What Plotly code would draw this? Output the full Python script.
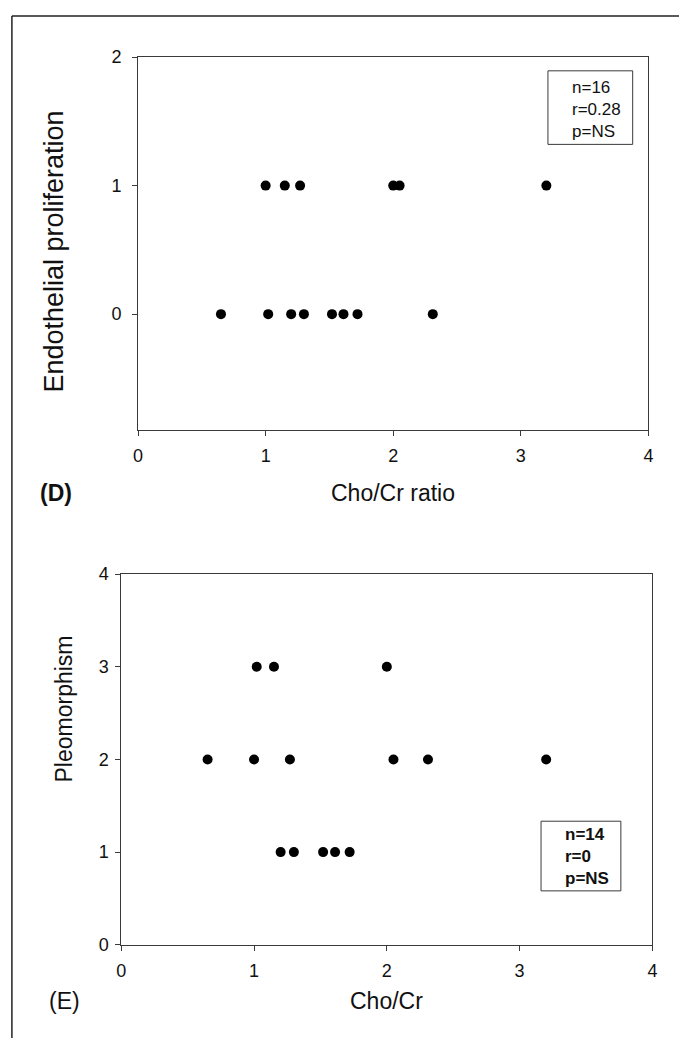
import plotly.graph_objects as go

W, H = 684, 1048

# Panel D: endothelial proliferation grade vs Cho/Cr ratio
d_cho_cr = [1.0, 1.15, 1.27, 2.0, 2.05, 3.2,
            0.65, 1.02, 1.2, 1.3, 1.52, 1.61, 1.72, 2.31]
d_endo = [1, 1, 1, 1, 1, 1,
          0, 0, 0, 0, 0, 0, 0, 0]
d_stats = ["n=16", "r=0.28", "p=NS"]

# Panel E: pleomorphism grade vs Cho/Cr
e_cho_cr = [1.02, 1.15, 2.0,
            0.65, 1.0, 1.27, 2.05, 2.31, 3.2,
            1.2, 1.3, 1.52, 1.61, 1.72]
e_pleo = [3, 3, 3,
          2, 2, 2, 2, 2, 2,
          1, 1, 1, 1, 1]
e_stats = ["n=14", "r=0", "p=NS"]

x_ticks = [0, 1, 2, 3, 4]
d_y_ticks = [0, 1, 2]
e_y_ticks = [0, 1, 2, 3, 4]

FONT = "Liberation Sans, Arial, sans-serif"
AXIS_COLOR = "#3a3a3a"


def px_x(v):
    return v / W


def px_y(v):
    return 1 - v / H


fig = go.Figure()

fig.add_trace(go.Scatter(
    x=d_cho_cr, y=d_endo, mode="markers", xaxis="x", yaxis="y",
    marker=dict(color="black", size=10), showlegend=False))
fig.add_trace(go.Scatter(
    x=e_cho_cr, y=e_pleo, mode="markers", xaxis="x2", yaxis="y2",
    marker=dict(color="black", size=10), showlegend=False))

axis_common = dict(
    showgrid=False, zeroline=False, showline=True, linecolor=AXIS_COLOR,
    linewidth=1, mirror=True, ticks="outside", ticklen=5, tickcolor=AXIS_COLOR,
    tickfont=dict(family=FONT, size=18, color="#111"),
)

fig.update_layout(
    width=W, height=H, margin=dict(l=0, r=0, t=0, b=0),
    paper_bgcolor="white", plot_bgcolor="white",
    xaxis=dict(domain=[px_x(135), px_x(653)], range=[0, 4], tickvals=x_ticks,
               anchor="y", ticklabelstandoff=5, **axis_common),
    yaxis=dict(domain=[px_y(428), px_y(48)], range=[-0.9, 2], tickvals=d_y_ticks,
               anchor="x", ticklabelstandoff=7, **axis_common),
    xaxis2=dict(domain=[px_x(118), px_x(657)], range=[0, 4], tickvals=x_ticks,
                anchor="y2", ticklabelstandoff=5, **axis_common),
    yaxis2=dict(domain=[px_y(953), px_y(575)], range=[0, 4], tickvals=e_y_ticks,
                anchor="x2", ticklabelstandoff=3, **axis_common),
)

annotations = []
shapes = []


def label(text, x, y, size, angle=0):
    return dict(text=text, x=px_x(x), y=px_y(y), textangle=angle,
                xanchor="center", yanchor="middle",
                xref="paper", yref="paper", showarrow=False,
                font=dict(family=FONT, size=size, color="#111"))


# axis titles and panel letters
annotations += [
    label("Endothelial proliferation", 50, 246, 27, -90),
    label("Cho/Cr ratio", 394, 492, 23),
    label("<b>(D)</b>", 52, 492, 23),
    label("Pleomorphism", 60, 713, 23, -90),
    label("Cho/Cr", 387, 1010, 23),
    label("(E)", 60, 1010, 23),
]

# statistics boxes
stat_font = dict(family=FONT, size=17, color="#111")
shapes.append(dict(type="rect", xref="paper", yref="paper",
                   x0=px_x(551), x1=px_x(637), y0=px_y(137), y1=px_y(62),
                   line=dict(color=AXIS_COLOR, width=1), fillcolor="white"))
annotations.append(dict(text="<br>".join(d_stats), x=px_x(573), y=px_y(101),
                        xanchor="left", yanchor="middle", align="left",
                        xref="paper", yref="paper", showarrow=False, font=stat_font))
shapes.append(dict(type="rect", xref="paper", yref="paper",
                   x0=px_x(544), x1=px_x(625), y0=px_y(898), y1=px_y(827),
                   line=dict(color=AXIS_COLOR, width=1), fillcolor="white"))
annotations.append(dict(text="<br>".join("<b>%s</b>" % s for s in e_stats),
                        x=px_x(566), y=px_y(863),
                        xanchor="left", yanchor="middle", align="left",
                        xref="paper", yref="paper", showarrow=False, font=stat_font))

# page frame lines along the top and left edges
shapes.append(dict(type="line", xref="paper", yref="paper",
                   x0=px_x(7), x1=1, y0=px_y(6), y1=px_y(6),
                   line=dict(color="#222", width=1.5)))
shapes.append(dict(type="line", xref="paper", yref="paper",
                   x0=px_x(7), x1=px_x(7), y0=0, y1=px_y(6),
                   line=dict(color="#222", width=1.5)))

fig.update_layout(annotations=annotations, shapes=shapes)

fig.write_html("out.html")
